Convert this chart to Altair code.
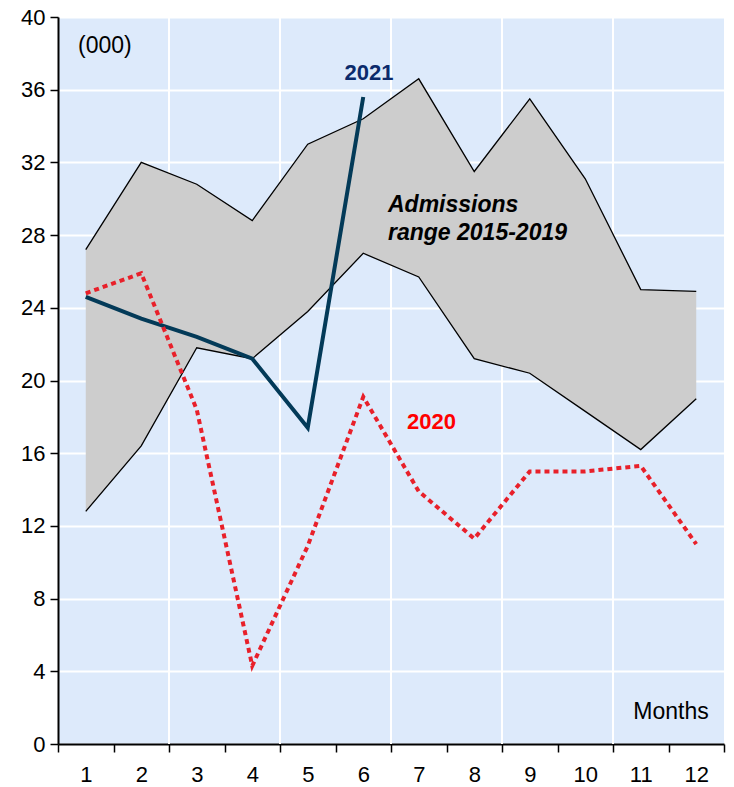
import altair as alt
import pandas as pd

months = list(range(1, 13))
range_upper = [27.2, 32.0, 30.8, 28.8, 33.0, 34.4, 36.6, 31.5, 35.5, 31.1, 25.0, 24.9]
range_lower = [12.8, 16.4, 21.8, 21.2, 23.8, 27.0, 25.7, 21.2, 20.4, 18.3, 16.2, 19.0]
y2020 = [24.8, 25.9, 18.4, 4.3, 10.9, 19.1, 13.9, 11.3, 15.0, 15.0, 15.3, 11.0]
months_2021 = [1, 2, 3, 4, 5, 6]
y2021 = [24.6, 23.4, 22.4, 21.2, 17.4, 35.6]
x_tick_values = [m - 0.5 for m in range(1, 14)]
x_grid_values = [2.5, 4.5, 6.5, 8.5, 10.5]
y_tick_values = list(range(0, 41, 4))

FONT = "Liberation Sans"
W, H = 666, 727
half = W / 12 / 2

rng = pd.DataFrame({"month": months, "upper": range_upper, "lower": range_lower})
d2020 = pd.DataFrame({"month": months, "value": y2020})
d2021 = pd.DataFrame({"month": months_2021, "value": y2021})
grid = pd.DataFrame({"g": x_grid_values})

xscale = alt.Scale(domain=[0.5, 12.5], nice=False, zero=False)
yscale = alt.Scale(domain=[0, 40], nice=False, zero=False)

xaxis = alt.Axis(
    values=x_tick_values, title=None, grid=False,
    labelExpr="datum.value > 12 ? '' : format(datum.value + 0.5, 'd')",
    labelOffset=half, labelFlush=False, labelOverlap=False, labelBound=False,
    labelFont=FONT, labelFontSize=22, labelColor="black", labelPadding=12,
    tickColor="black", tickSize=8, tickWidth=1.5,
    domainColor="black", domainWidth=2,
)
yaxis = alt.Axis(
    values=y_tick_values, title=None, grid=True, gridColor="white", gridWidth=2,
    labelFont=FONT, labelFontSize=22, labelColor="black", labelPadding=5,
    tickColor="black", tickSize=8, tickWidth=1.5,
    domainColor="black", domainWidth=2,
)

base_x = alt.X("month:Q", scale=xscale, axis=xaxis)

gridrules = alt.Chart(grid).mark_rule(color="white", strokeWidth=2).encode(
    x=alt.X("g:Q", scale=xscale, axis=xaxis)
)

area = alt.Chart(rng).mark_area(color="#CDCDCD", opacity=1).encode(
    x=base_x,
    y=alt.Y("upper:Q", scale=yscale, axis=yaxis),
    y2="lower:Q",
)
upper = alt.Chart(rng).mark_line(color="black", strokeWidth=1.3).encode(
    x=base_x, y=alt.Y("upper:Q", scale=yscale, axis=yaxis)
)
lower = alt.Chart(rng).mark_line(color="black", strokeWidth=1.3).encode(
    x=base_x, y=alt.Y("lower:Q", scale=yscale, axis=yaxis)
)
l2021 = alt.Chart(d2021).mark_line(color="#033A58", strokeWidth=4).encode(
    x=base_x, y=alt.Y("value:Q", scale=yscale, axis=yaxis)
)
l2020 = alt.Chart(d2020).mark_line(color="#E8202A", strokeWidth=4, strokeDash=[5, 4]).encode(
    x=base_x, y=alt.Y("value:Q", scale=yscale, axis=yaxis)
)

def label(text, x, y, size, color="black", weight="normal", style="normal", align="left", lh=None):
    kw = {}
    if lh is not None:
        kw["lineHeight"] = lh
    return alt.Chart(pd.DataFrame({"t": [0]})).mark_text(
        text=text, font=FONT, fontSize=size, color=color, fontWeight=weight,
        fontStyle=style, align=align, baseline="alphabetic", **kw
    ).encode(x=alt.value(x), y=alt.value(y))

t000 = label("(000)", 20, 36, 23)
t2021 = label("2021", 311, 63, 22, color="#0B2A6B", weight="bold", align="center")
tadm = label(["Admissions", "range 2015-2019"], 330, 195, 23, weight="bold", style="italic", lh=28)
t2020 = label("2020", 349, 412, 22, color="#FF0000", weight="bold")
tmonths = label("Months", 613, 702, 23, align="center")

chart = alt.layer(
    gridrules, area, upper, lower, l2021, l2020, t000, t2021, tadm, t2020, tmonths
).properties(
    width=W, height=H,
    autosize=alt.AutoSizeParams(type="none"),
    padding={"left": 50, "top": 9, "right": 2, "bottom": 42},
    background="white",
).configure_view(fill="#DDEAFB", stroke=None)

chart.save("out.html", embed_options={"renderer": "svg", "actions": False})
